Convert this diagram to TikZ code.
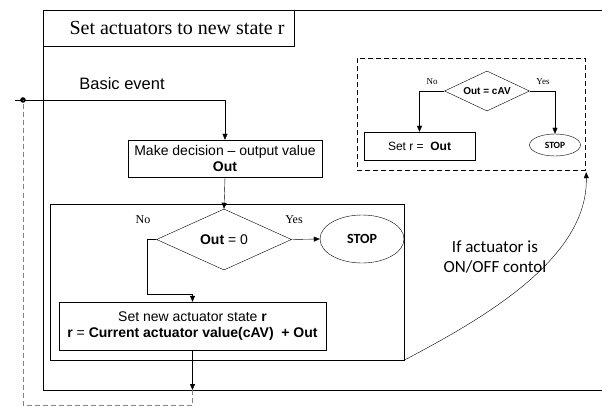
\documentclass[tikz,border=0pt]{standalone}
\usepackage{fontspec}
\setmainfont{Liberation Serif}
\setsansfont{Liberation Sans}
\newfontfamily\calibri{Carlito}
\usetikzlibrary{arrows.meta,shapes.geometric,calc}
\definecolor{dgray}{RGB}{130,130,130}
\tikzset{
  x=1pt,y=-1pt,
  line width=0.85pt,
  arr/.style={-{Triangle[length=6pt,width=5pt]}},
  boxnode/.style={draw,rectangle,inner sep=0pt,align=center,font=\sffamily\fontsize{14}{16}\selectfont},
  dia/.style={draw,diamond,inner sep=0pt,aspect=2},
  ell/.style={draw,ellipse,inner sep=0pt},
  lab/.style={inner sep=0pt,font=\rmfamily\fontsize{12}{14}\selectfont},
  slab/.style={inner sep=0pt,font=\rmfamily\fontsize{9}{11}\selectfont},
  gdash/.style={draw=dgray,dash pattern=on 5pt off 3pt,line width=0.85pt},
}
\begin{document}
\begin{tikzpicture}
\useasboundingbox (0,0) rectangle (602,406);
% outer frame
\coordinate (otl) at (43,10);
\coordinate (otr) at (602,10);
\coordinate (obl) at (43,390);
\coordinate (obr) at (602,390);
\draw (otr) -- (otl) -- (obl) -- (obr);
\node[draw,rectangle,minimum width=251pt,minimum height=36pt,inner sep=0pt,anchor=north west] (titlebox) at (otl) {};
\node[inner sep=0pt,font=\rmfamily\fontsize{20}{22}\selectfont] (title) at (177,28) {Set actuators to new state r};
% basic event
\node[inner sep=0pt,font=\sffamily\fontsize{16.5}{18}\selectfont] (basic) at (122,84) {Basic event};
\coordinate (bstart) at (15,100);
\coordinate (bdot) at (23,100);
\node[boxnode,minimum width=194pt,minimum height=37pt] (decide) at (225,158.5) {Make decision -- output value\\\textbf{Out}};
\draw[arr] (bstart) -| (decide.north);
\fill (bdot) circle (2.8pt);
% big box
\node[draw,rectangle,inner sep=0pt,minimum width=354pt,minimum height=156pt] (bigbox) at (227,282) {};
\node[dia,minimum width=135pt,minimum height=61pt,font=\sffamily\fontsize{14}{16}\selectfont] (d1) at (224,239.5) {\textbf{Out} = 0};
\draw[arr] (decide.south) -- (d1.north);
\node[ell,minimum width=84pt,minimum height=48pt,font=\calibri\bfseries\fontsize{14}{15}\selectfont] (stop1) at (362,239) {STOP};
\draw[arr] (d1.east) -- (stop1.west);
\node[lab] (no1) at (143,220) {No};
\node[lab] (yes1) at (294,220) {Yes};
\node[boxnode,minimum width=267pt,minimum height=48pt] (setbox) at (192.5,326) {Set new actuator state \textbf{r}\\\textbf{r} = \textbf{Current actuator value(cAV)\ \ + Out}};
\draw[arr] (d1.west) -- ++(-9,0) |- ($(setbox.north)+(0,-8)$) -- (setbox.north);
\coordinate (obot) at (setbox.south |- obl);
\draw[arr] (setbox.south) -- (obot);
\draw[gdash] (obot) -- ++(0,15) -| (bdot);
% dashed box
\node[draw,dash pattern=on 5pt off 3pt,rectangle,inner sep=0pt,minimum width=228pt,minimum height=112pt] (dbox) at (471,114) {};
\node[dia,minimum width=85pt,minimum height=40pt,font=\sffamily\bfseries\fontsize{10}{12}\selectfont] (d2) at (487,91) {Out = cAV};
\node[boxnode,minimum width=111pt,minimum height=28pt,font=\sffamily\fontsize{12}{14}\selectfont] (setr) at (419.5,146) {Set r = \ \textbf{Out}};
\node[ell,minimum width=51pt,minimum height=22pt,font=\calibri\bfseries\fontsize{9.5}{11}\selectfont] (stop2) at (555,145) {STOP};
\draw[arr] (d2.west) -| (setr.north);
\draw[arr] (d2.east) -| (stop2.north);
\node[slab] (no2) at (432,82) {No};
\node[slab] (yes2) at (543,82) {Yes};
% curve
\coordinate (cend) at ($(dbox.south east)+(1,2)$);
\draw[arr] (bigbox.south east) .. controls (480,320) and (588,260) .. (cend);
\node[inner sep=0pt,align=center,font=\calibri\fontsize{17}{20}\selectfont] (cond) at (495,257) {If actuator is\\ON/OFF contol};
\end{tikzpicture}
\end{document}
